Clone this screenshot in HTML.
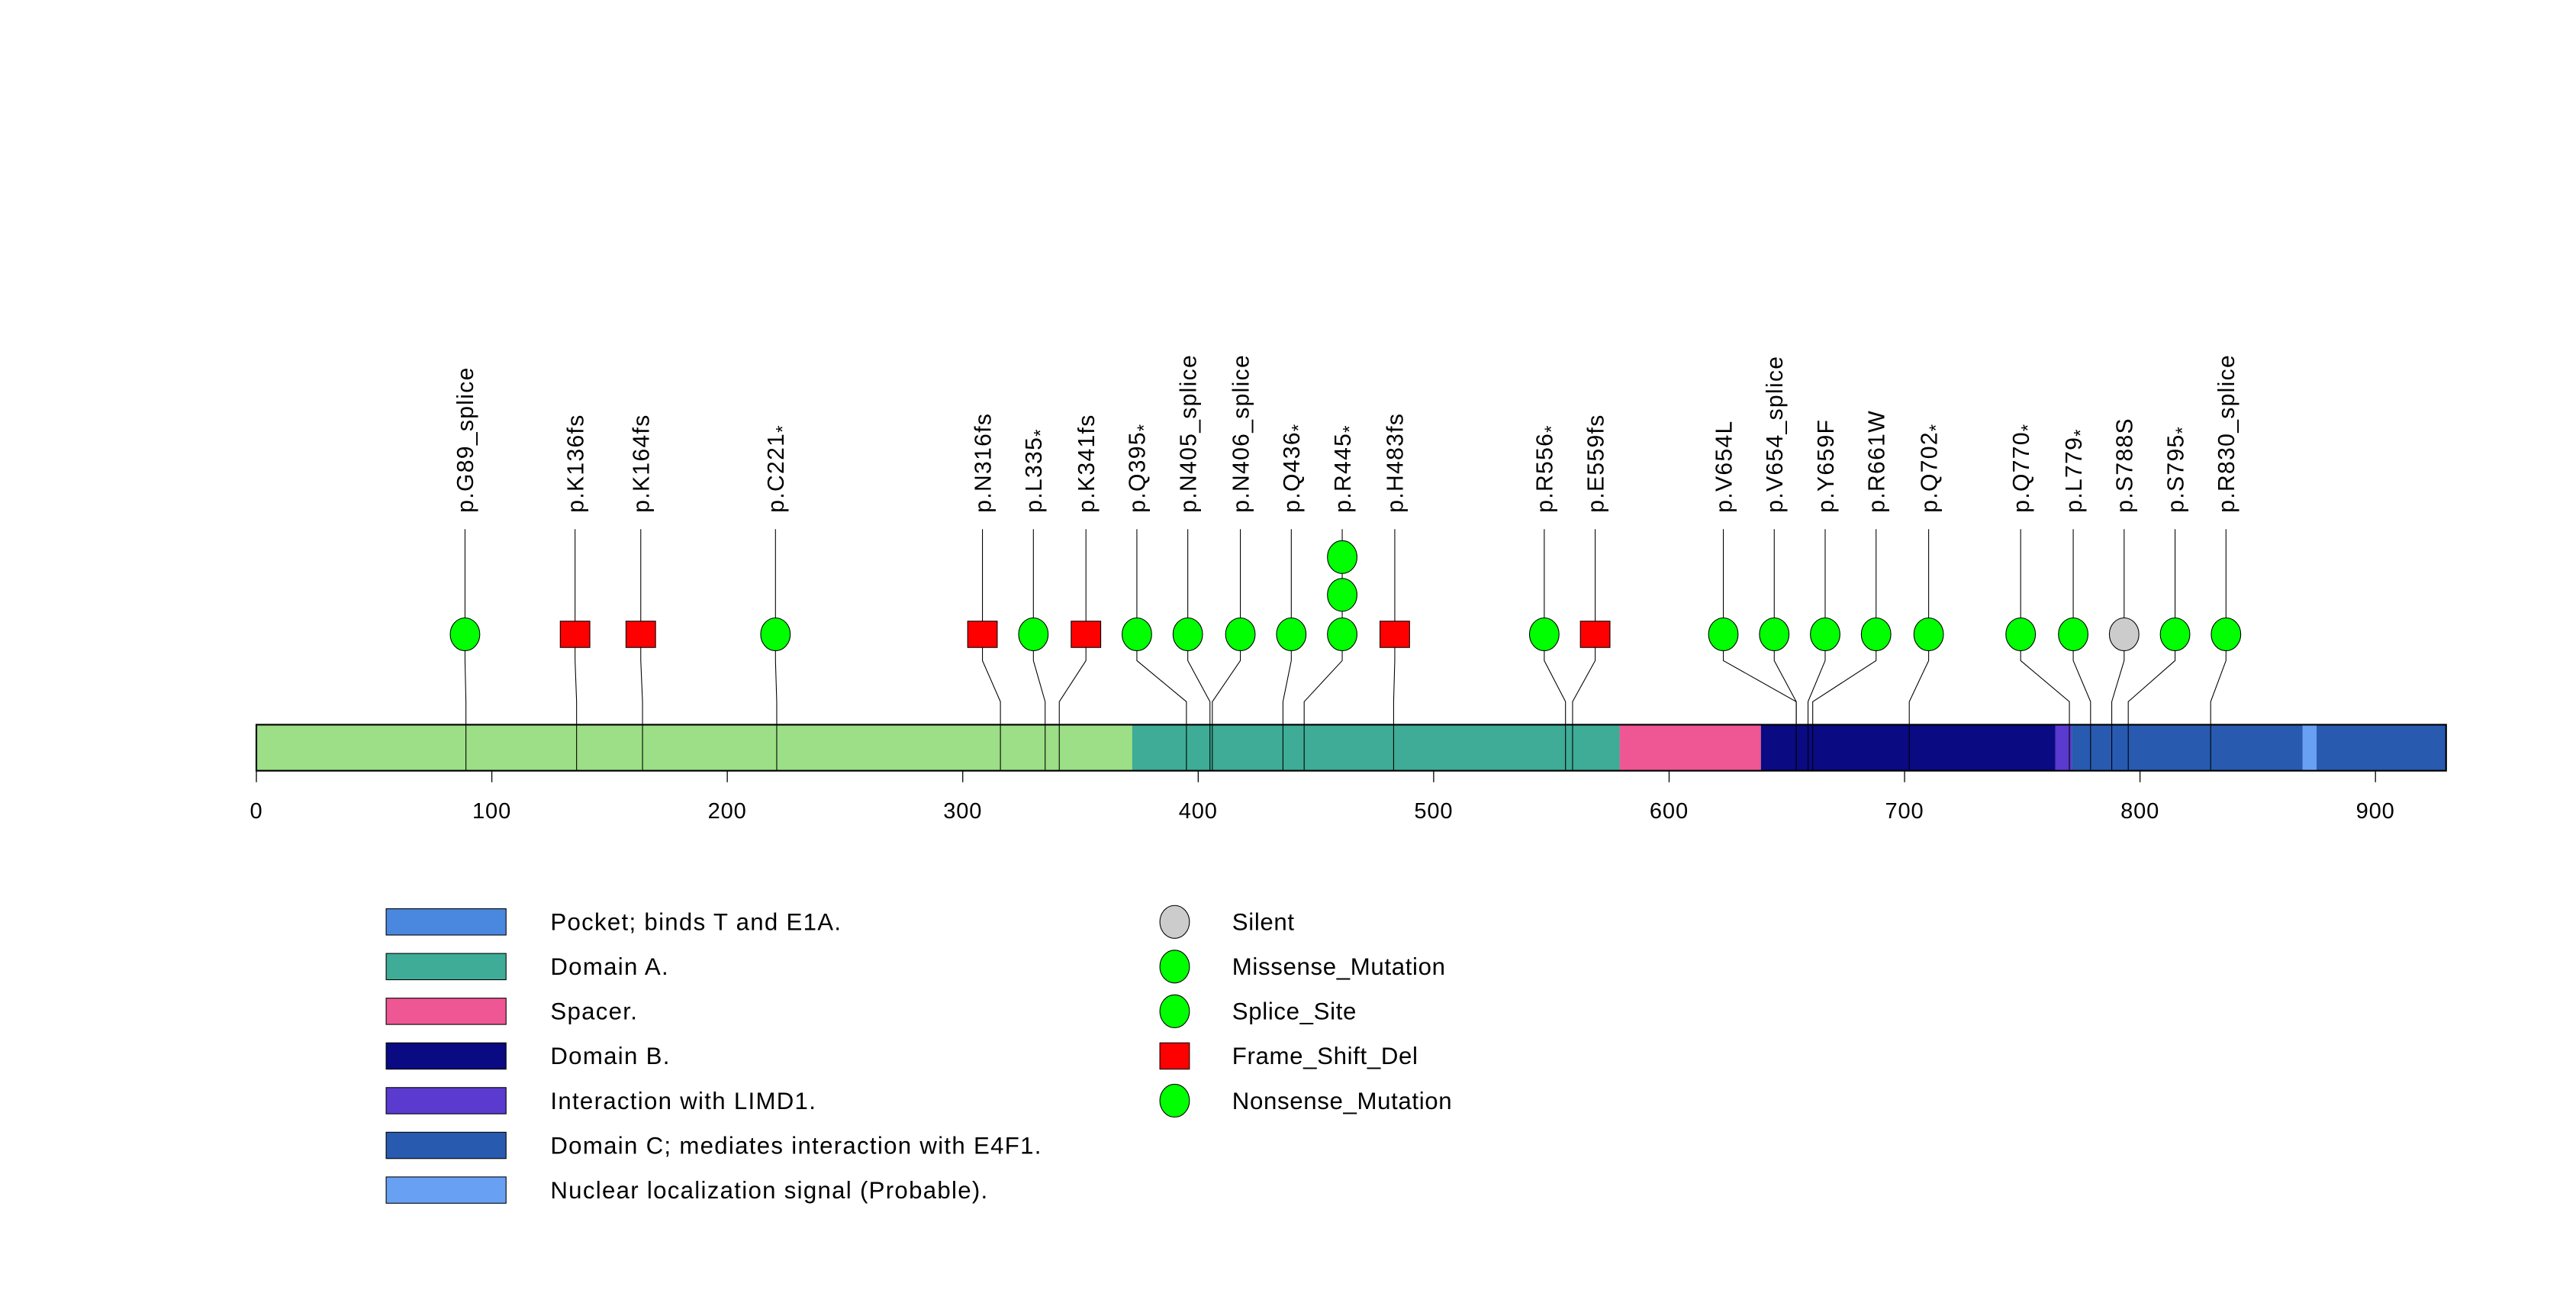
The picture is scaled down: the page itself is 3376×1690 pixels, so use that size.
<!DOCTYPE html>
<html><head><meta charset="utf-8"><style>html,body{margin:0;padding:0;background:#fff}svg{display:block}text{font-family:"Liberation Sans",sans-serif;fill:#000}</style></head>
<body>
<svg id="c" width="3376" height="1690" viewBox="0 0 1568 785" xmlns="http://www.w3.org/2000/svg"></svg>
<script>
const protLen = 930;
const domainNames = ["Pocket; binds T and E1A.","Domain A.","Spacer.","Domain B.","Interaction with LIMD1.","Domain C; mediates interaction with E4F1.","Nuclear localization signal (Probable)."];
const domainColors = ["#4A88E0","#3EAC96","#EF5794","#0A0A82","#5A3ACF","#285AB0","#68A0F3"];
const domainStarts = [0,372,579,639,764,771,869];
const domainEnds = [372,579,639,764,771,930,875];
const mutLabels = ["p.G89_splice","p.K136fs","p.K164fs","p.C221*","p.N316fs","p.L335*","p.K341fs","p.Q395*","p.N405_splice","p.N406_splice","p.Q436*","p.R445*","p.H483fs","p.R556*","p.E559fs","p.V654L","p.V654_splice","p.Y659F","p.R661W","p.Q702*","p.Q770*","p.L779*","p.S788S","p.S795*","p.R830_splice"];
const mutPos = [89,136,164,221,316,335,341,395,405,406,436,445,483,556,559,654,654,659,661,702,770,779,788,795,830];
const mutCounts = [1,1,1,1,1,1,1,1,1,1,1,3,1,1,1,1,1,1,1,1,1,1,1,1,1];
const mutTypes = ["splice","fs","fs","non","fs","non","fs","non","splice","splice","non","non","fs","non","fs","mis","splice","mis","mis","non","non","non","silent","non","splice"];
const markerX = [283,350,390,472,598,629,661,692,723,755,786,817,849,940,971,1049,1080,1111,1142,1174,1230,1262,1293,1324,1355];
const ticks = [0,100,200,300,400,500,600,700,800,900];
const legendTypes = ["Silent","Missense_Mutation","Splice_Site","Frame_Shift_Del","Nonsense_Mutation"];

const svg = document.getElementById('c');
const NS = "http://www.w3.org/2000/svg";
const x0 = 156, pxPer = (1446-156)/900;
const xs = v => x0 + v*pxPer;
const barTop = 441, barBot = 469;
function mk(tag, attrs, parent){const e=document.createElementNS(NS,tag);for(const k in attrs)e.setAttribute(k,attrs[k]);(parent||svg).appendChild(e);return e;}
function colorOf(t){return t==='fs'?'#FF0000':(t==='silent'?'#CCCCCC':'#00FF00');}
function marker(t,cx,cy,name){
  let e;
  if(t==='fs'){e=mk('rect',{x:cx-9,y:cy-8,width:18,height:16,fill:'#FF0000',stroke:'#000','stroke-width':0.5});}
  else {e=mk('ellipse',{cx:cx,cy:cy,rx:9,ry:10,fill:colorOf(t),stroke:'#000','stroke-width':0.5});}
  
  
  return e;
}
const base = mk('rect',{x:xs(0),y:barTop,width:xs(protLen)-xs(0),height:barBot-barTop,fill:'#9CDF86',stroke:'none'});


for(let i=1;i<domainNames.length;i++){
  const r = mk('rect',{x:xs(domainStarts[i]),y:barTop,width:xs(domainEnds[i])-xs(domainStarts[i]),height:barBot-barTop,fill:domainColors[i]});
  
  
}
mk('rect',{x:xs(0),y:barTop,width:xs(protLen)-xs(0),height:barBot-barTop,fill:'none',stroke:'#000','stroke-width':1});
const ax = mk('line',{x1:xs(0),y1:barBot,x2:xs(900),y2:barBot,stroke:'#000','stroke-width':0.6});


ticks.forEach(t=>{
  mk('line',{x1:xs(t),y1:barBot,x2:xs(t),y2:barBot+7,stroke:'#000','stroke-width':0.6});
  const tx = mk('text',{x:xs(t),y:498,'text-anchor':'middle','font-size':13.5,'letter-spacing':0.4});
  tx.textContent = t;
  
  
});
const rowY=[386,362,339];
mutLabels.forEach((lab,i)=>{
  const mx=markerX[i], px=xs(mutPos[i]);
  const top = rowY[mutCounts[i]-1];
  mk('polyline',{points:`${px},${barBot} ${px},427 ${mx},402 ${mx},${top} ${mx},322`,fill:'none',stroke:'#000','stroke-width':0.5});
  for(let k=0;k<mutCounts[i];k++) marker(mutTypes[i],mx,rowY[k],'mutation-marker');
  const t = mk('text',{transform:`translate(${mx+5},312) rotate(-90)`,'font-size':14,'letter-spacing':0.6});
  
  
  if(lab.endsWith('*')){
    t.textContent = lab.slice(0,-1);
    const s = mk('tspan',{'font-size':11,dy:3},t); s.textContent='*';
  } else t.textContent = lab;
});
domainNames.forEach((n,i)=>{
  const y=561+i*27.2;
  const r = mk('rect',{x:235,y:y-8,width:73,height:16,fill:domainColors[i],stroke:'#000','stroke-width':0.5});
  
  
  const t = mk('text',{x:335,y:y+5,'font-size':14.5,'letter-spacing':0.6}); t.textContent=n;
  
  
});
const legKinds=['silent','mis','splice','fs','non'];
legendTypes.forEach((n,i)=>{
  const y=561+i*27.2;
  marker(legKinds[i],715,y,'legend-mutation-marker');
  const t = mk('text',{x:750,y:y+5,'font-size':14.5,'letter-spacing':0.3}); t.textContent=n;
  
  
});
</script>
</body></html>
